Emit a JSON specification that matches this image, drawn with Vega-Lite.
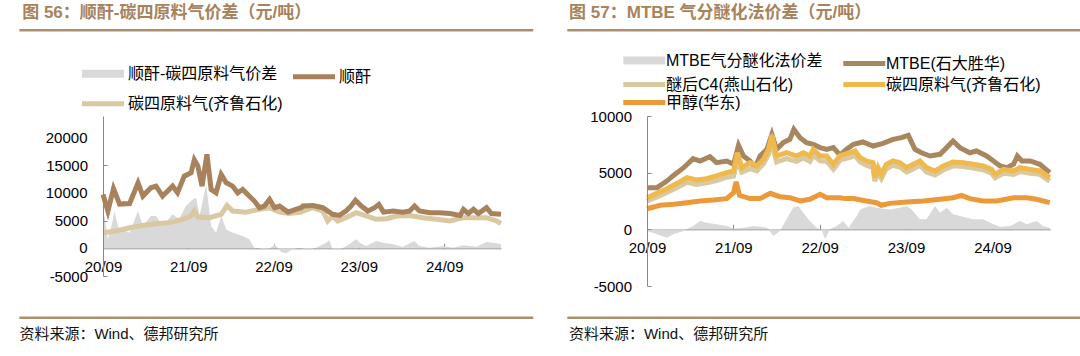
{
  "$schema": "https://vega.github.io/schema/vega-lite/v6.json",
  "background": "white",
  "padding": {"left": 18, "top": 4, "right": 2, "bottom": 4},
  "spacing": 31,
  "config": {
    "view": {"stroke": null},
    "font": "Liberation Sans, Noto Sans CJK SC",
    "axis": {"labelOverlap": false}
  },
  "resolve": {"scale": {"color": "independent"}, "legend": {"color": "independent"}},
  "datasets": {
    "L_spread": [
      {"date": "2020-09-01", "value": 6150}, {"date": "2020-09-08", "value": 5800}, {"date": "2020-09-22", "value": 1600},
      {"date": "2020-10-10", "value": 4500}, {"date": "2020-10-20", "value": 6750}, {"date": "2020-11-11", "value": 2830},
      {"date": "2020-12-01", "value": 3300}, {"date": "2020-12-24", "value": 2830}, {"date": "2021-01-29", "value": 6750},
      {"date": "2021-02-19", "value": 4030}, {"date": "2021-03-25", "value": 5850}, {"date": "2021-04-16", "value": 5850},
      {"date": "2021-05-14", "value": 4030}, {"date": "2021-06-26", "value": 6150}, {"date": "2021-07-24", "value": 5250},
      {"date": "2021-08-22", "value": 7650}, {"date": "2021-09-20", "value": 8850}, {"date": "2021-10-05", "value": 9150},
      {"date": "2021-10-19", "value": 5850}, {"date": "2021-11-17", "value": 11550}, {"date": "2021-12-08", "value": 4030},
      {"date": "2021-12-29", "value": 2830}, {"date": "2022-01-20", "value": 5850}, {"date": "2022-02-11", "value": 3430},
      {"date": "2022-03-10", "value": 2830}, {"date": "2022-04-22", "value": 2230}, {"date": "2022-05-20", "value": 1630},
      {"date": "2022-06-11", "value": 120}, {"date": "2022-07-17", "value": -180}, {"date": "2022-08-15", "value": -60},
      {"date": "2022-09-06", "value": 720}, {"date": "2022-10-04", "value": -660}, {"date": "2022-10-25", "value": -900},
      {"date": "2022-11-23", "value": -180}, {"date": "2022-12-29", "value": 120}, {"date": "2023-01-05", "value": -60},
      {"date": "2023-02-03", "value": -300}, {"date": "2023-03-02", "value": 120}, {"date": "2023-04-14", "value": 1020},
      {"date": "2023-04-28", "value": 1450}, {"date": "2023-05-12", "value": -180}, {"date": "2023-06-10", "value": -300},
      {"date": "2023-07-22", "value": 720}, {"date": "2023-08-21", "value": 1630}, {"date": "2023-09-05", "value": 1020},
      {"date": "2023-10-03", "value": 420}, {"date": "2023-11-15", "value": 1320}, {"date": "2023-12-13", "value": 1020},
      {"date": "2024-01-26", "value": 720}, {"date": "2024-03-08", "value": 300}, {"date": "2024-04-27", "value": 1320},
      {"date": "2024-05-18", "value": 420}, {"date": "2024-07-01", "value": 120}, {"date": "2024-08-27", "value": 420},
      {"date": "2024-10-09", "value": 120}, {"date": "2024-11-22", "value": 540}, {"date": "2025-01-18", "value": 300},
      {"date": "2025-03-01", "value": 1140}, {"date": "2025-04-13", "value": 900}, {"date": "2025-05-02", "value": 720}
    ],
    "L_ma": [
      {"date": "2020-09-01", "value": 9750}, {"date": "2020-09-22", "value": 6750}, {"date": "2020-10-16", "value": 10800},
      {"date": "2020-11-11", "value": 8000}, {"date": "2020-12-24", "value": 8100}, {"date": "2021-01-29", "value": 11850},
      {"date": "2021-02-19", "value": 9450}, {"date": "2021-03-25", "value": 10950}, {"date": "2021-04-16", "value": 11250},
      {"date": "2021-05-14", "value": 9450}, {"date": "2021-06-26", "value": 11250}, {"date": "2021-07-17", "value": 10050},
      {"date": "2021-08-15", "value": 13050}, {"date": "2021-09-13", "value": 13650}, {"date": "2021-09-27", "value": 16000},
      {"date": "2021-10-12", "value": 14900}, {"date": "2021-10-30", "value": 11250}, {"date": "2021-11-20", "value": 17000},
      {"date": "2021-12-08", "value": 10650}, {"date": "2021-12-29", "value": 10050}, {"date": "2022-01-20", "value": 13350},
      {"date": "2022-02-11", "value": 11850}, {"date": "2022-03-10", "value": 11250}, {"date": "2022-04-01", "value": 10050},
      {"date": "2022-04-22", "value": 10650}, {"date": "2022-05-20", "value": 9450}, {"date": "2022-06-11", "value": 8550},
      {"date": "2022-07-03", "value": 7350}, {"date": "2022-07-24", "value": 7650}, {"date": "2022-08-15", "value": 8850},
      {"date": "2022-09-06", "value": 7350}, {"date": "2022-09-27", "value": 7650}, {"date": "2022-11-02", "value": 6550},
      {"date": "2022-12-08", "value": 7100}, {"date": "2022-12-29", "value": 7350}, {"date": "2023-01-05", "value": 7650},
      {"date": "2023-02-17", "value": 7750}, {"date": "2023-03-31", "value": 7350}, {"date": "2023-05-12", "value": 6150},
      {"date": "2023-06-10", "value": 5950}, {"date": "2023-07-08", "value": 6750}, {"date": "2023-07-30", "value": 7650},
      {"date": "2023-08-18", "value": 8700}, {"date": "2023-09-12", "value": 7650}, {"date": "2023-10-10", "value": 6750},
      {"date": "2023-11-08", "value": 7350}, {"date": "2023-11-26", "value": 7950}, {"date": "2023-12-16", "value": 6550},
      {"date": "2024-01-26", "value": 6750}, {"date": "2024-03-08", "value": 6550}, {"date": "2024-04-06", "value": 6750},
      {"date": "2024-04-27", "value": 7650}, {"date": "2024-05-18", "value": 6750}, {"date": "2024-07-01", "value": 6450},
      {"date": "2024-08-13", "value": 6450}, {"date": "2024-09-25", "value": 6300}, {"date": "2024-11-08", "value": 5950},
      {"date": "2024-11-22", "value": 7050}, {"date": "2024-12-13", "value": 6300}, {"date": "2025-01-04", "value": 7050},
      {"date": "2025-01-25", "value": 6300}, {"date": "2025-03-01", "value": 7350}, {"date": "2025-03-22", "value": 6300},
      {"date": "2025-05-02", "value": 6150}
    ],
    "L_c4": [
      {"date": "2020-09-01", "value": 2830}, {"date": "2020-10-27", "value": 3130}, {"date": "2020-12-24", "value": 3730},
      {"date": "2021-02-19", "value": 4150}, {"date": "2021-04-16", "value": 4450}, {"date": "2021-06-12", "value": 4650},
      {"date": "2021-08-08", "value": 5250}, {"date": "2021-09-13", "value": 5850}, {"date": "2021-09-27", "value": 6750},
      {"date": "2021-10-12", "value": 5700}, {"date": "2021-12-01", "value": 5550}, {"date": "2022-01-20", "value": 6150},
      {"date": "2022-02-14", "value": 7750}, {"date": "2022-03-10", "value": 6750}, {"date": "2022-05-06", "value": 6550},
      {"date": "2022-07-03", "value": 7050}, {"date": "2022-08-15", "value": 7350}, {"date": "2022-09-27", "value": 6550},
      {"date": "2022-11-09", "value": 6300}, {"date": "2022-12-29", "value": 6550}, {"date": "2023-01-05", "value": 6750},
      {"date": "2023-02-17", "value": 7350}, {"date": "2023-03-31", "value": 6750}, {"date": "2023-04-21", "value": 4950},
      {"date": "2023-05-12", "value": 5850}, {"date": "2023-06-03", "value": 4950}, {"date": "2023-07-08", "value": 5550},
      {"date": "2023-08-21", "value": 6450}, {"date": "2023-10-03", "value": 5850}, {"date": "2023-11-15", "value": 5250},
      {"date": "2023-12-28", "value": 5350}, {"date": "2024-02-10", "value": 5850}, {"date": "2024-04-06", "value": 5950},
      {"date": "2024-06-02", "value": 5550}, {"date": "2024-07-29", "value": 5250}, {"date": "2024-09-25", "value": 4950},
      {"date": "2024-11-22", "value": 5550}, {"date": "2025-01-18", "value": 5550}, {"date": "2025-03-01", "value": 5550},
      {"date": "2025-04-13", "value": 4950}, {"date": "2025-05-02", "value": 4500}
    ],
    "L_ticks": [
      {"tick": 0}, {"tick": 10000}, {"tick": 20000}
    ],
    "R_spread": [
      {"date": "2020-09-01", "value": -150}, {"date": "2020-10-13", "value": -440}, {"date": "2020-11-24", "value": -740},
      {"date": "2020-12-22", "value": -440}, {"date": "2021-02-03", "value": -150}, {"date": "2021-03-15", "value": 290},
      {"date": "2021-04-13", "value": 740}, {"date": "2021-05-11", "value": 590}, {"date": "2021-06-22", "value": 440},
      {"date": "2021-08-04", "value": 290}, {"date": "2021-09-02", "value": 60}, {"date": "2021-10-14", "value": 150},
      {"date": "2021-11-25", "value": 290}, {"date": "2022-01-21", "value": 150}, {"date": "2022-02-18", "value": -590},
      {"date": "2022-03-17", "value": -150}, {"date": "2022-04-14", "value": 880}, {"date": "2022-05-12", "value": 1910},
      {"date": "2022-06-03", "value": 2060}, {"date": "2022-06-24", "value": 1470}, {"date": "2022-07-22", "value": 740},
      {"date": "2022-08-19", "value": 150}, {"date": "2022-09-10", "value": -60}, {"date": "2022-09-24", "value": -880},
      {"date": "2022-10-15", "value": 0}, {"date": "2022-11-12", "value": 290}, {"date": "2022-12-10", "value": 740},
      {"date": "2023-01-01", "value": 150}, {"date": "2023-02-05", "value": 1180}, {"date": "2023-02-19", "value": 1760},
      {"date": "2023-04-01", "value": 2060}, {"date": "2023-04-29", "value": 1910}, {"date": "2023-06-24", "value": 1760},
      {"date": "2023-08-06", "value": 1910}, {"date": "2023-09-04", "value": 2060}, {"date": "2023-09-25", "value": 1760},
      {"date": "2023-10-30", "value": 880}, {"date": "2023-11-27", "value": 880}, {"date": "2024-01-02", "value": 2060},
      {"date": "2024-01-23", "value": 1470}, {"date": "2024-02-20", "value": 1910}, {"date": "2024-03-18", "value": 1320},
      {"date": "2024-04-16", "value": 1180}, {"date": "2024-06-11", "value": 880}, {"date": "2024-07-23", "value": 880},
      {"date": "2024-09-05", "value": 440}, {"date": "2024-10-03", "value": 235}, {"date": "2024-11-15", "value": 290},
      {"date": "2024-12-26", "value": 740}, {"date": "2025-01-24", "value": 440}, {"date": "2025-03-06", "value": 740},
      {"date": "2025-04-03", "value": 290}, {"date": "2025-05-01", "value": 150}
    ],
    "R_mtbe": [
      {"date": "2020-09-01", "value": 3680}, {"date": "2020-10-13", "value": 3680}, {"date": "2020-11-24", "value": 4260},
      {"date": "2020-12-22", "value": 4760}, {"date": "2021-02-03", "value": 5440}, {"date": "2021-03-15", "value": 6240},
      {"date": "2021-04-13", "value": 6030}, {"date": "2021-05-25", "value": 6410}, {"date": "2021-06-22", "value": 5880},
      {"date": "2021-08-04", "value": 6030}, {"date": "2021-09-02", "value": 5740}, {"date": "2021-09-23", "value": 7410},
      {"date": "2021-10-14", "value": 6470}, {"date": "2021-11-11", "value": 6030}, {"date": "2021-12-02", "value": 5440},
      {"date": "2021-12-23", "value": 6470}, {"date": "2022-01-21", "value": 7060}, {"date": "2022-02-11", "value": 8380},
      {"date": "2022-03-03", "value": 7060}, {"date": "2022-03-31", "value": 7650}, {"date": "2022-04-28", "value": 7940},
      {"date": "2022-05-15", "value": 8820}, {"date": "2022-06-10", "value": 8090}, {"date": "2022-07-08", "value": 7650},
      {"date": "2022-08-05", "value": 7500}, {"date": "2022-09-03", "value": 7210}, {"date": "2022-10-01", "value": 7060},
      {"date": "2022-10-29", "value": 7210}, {"date": "2022-11-26", "value": 6550}, {"date": "2022-12-24", "value": 7060},
      {"date": "2023-01-22", "value": 7500}, {"date": "2023-03-03", "value": 7710}, {"date": "2023-04-15", "value": 7350},
      {"date": "2023-05-27", "value": 7590}, {"date": "2023-07-08", "value": 7940}, {"date": "2023-08-13", "value": 8090},
      {"date": "2023-09-11", "value": 8290}, {"date": "2023-10-09", "value": 7060}, {"date": "2023-11-06", "value": 6760},
      {"date": "2023-12-11", "value": 6470}, {"date": "2024-01-23", "value": 6620}, {"date": "2024-02-20", "value": 7210},
      {"date": "2024-03-18", "value": 7790}, {"date": "2024-04-16", "value": 7210}, {"date": "2024-05-28", "value": 6760},
      {"date": "2024-06-25", "value": 6910}, {"date": "2024-08-07", "value": 6470}, {"date": "2024-09-05", "value": 6030},
      {"date": "2024-10-03", "value": 5590}, {"date": "2024-11-01", "value": 5440}, {"date": "2024-11-29", "value": 5740},
      {"date": "2024-12-15", "value": 6470}, {"date": "2025-01-03", "value": 6030}, {"date": "2025-02-07", "value": 6030},
      {"date": "2025-03-20", "value": 5740}, {"date": "2025-05-01", "value": 5000}
    ],
    "R_c4after": [
      {"date": "2020-09-01", "value": 2500}, {"date": "2020-10-13", "value": 2850}, {"date": "2020-11-24", "value": 3250},
      {"date": "2021-01-06", "value": 3700}, {"date": "2021-02-17", "value": 4150}, {"date": "2021-03-29", "value": 3950},
      {"date": "2021-05-11", "value": 4100}, {"date": "2021-06-22", "value": 4300}, {"date": "2021-08-04", "value": 4600},
      {"date": "2021-09-02", "value": 4700}, {"date": "2021-09-18", "value": 6100}, {"date": "2021-10-07", "value": 5050},
      {"date": "2021-11-11", "value": 5350}, {"date": "2021-12-09", "value": 5150}, {"date": "2022-01-07", "value": 5800},
      {"date": "2022-01-28", "value": 6650}, {"date": "2022-02-11", "value": 7700}, {"date": "2022-03-03", "value": 5950},
      {"date": "2022-04-14", "value": 6250}, {"date": "2022-05-26", "value": 6000}, {"date": "2022-06-24", "value": 6300},
      {"date": "2022-07-22", "value": 6000}, {"date": "2022-08-05", "value": 6550}, {"date": "2022-09-03", "value": 6050},
      {"date": "2022-10-01", "value": 6000}, {"date": "2022-10-29", "value": 5300}, {"date": "2022-11-26", "value": 6100},
      {"date": "2023-01-08", "value": 6350}, {"date": "2023-01-29", "value": 6500}, {"date": "2023-02-19", "value": 5950},
      {"date": "2023-03-17", "value": 5650}, {"date": "2023-04-15", "value": 5450}, {"date": "2023-04-22", "value": 4250},
      {"date": "2023-05-06", "value": 5050}, {"date": "2023-05-20", "value": 4500}, {"date": "2023-06-10", "value": 5350},
      {"date": "2023-07-08", "value": 5650}, {"date": "2023-08-06", "value": 5500}, {"date": "2023-09-04", "value": 5050},
      {"date": "2023-10-02", "value": 5350}, {"date": "2023-10-30", "value": 5650}, {"date": "2023-11-27", "value": 5050},
      {"date": "2024-01-02", "value": 4800}, {"date": "2024-02-06", "value": 5250}, {"date": "2024-03-18", "value": 5600},
      {"date": "2024-04-30", "value": 5550}, {"date": "2024-06-11", "value": 5400}, {"date": "2024-07-23", "value": 5250},
      {"date": "2024-08-28", "value": 4950}, {"date": "2024-09-12", "value": 4550}, {"date": "2024-10-17", "value": 4950},
      {"date": "2024-11-29", "value": 4850}, {"date": "2024-12-26", "value": 5100}, {"date": "2025-02-07", "value": 4950},
      {"date": "2025-03-20", "value": 4850}, {"date": "2025-05-01", "value": 4250}
    ],
    "R_c4": [
      {"date": "2020-09-01", "value": 2790}, {"date": "2020-10-13", "value": 3180}, {"date": "2020-11-24", "value": 3590},
      {"date": "2021-01-06", "value": 4060}, {"date": "2021-02-17", "value": 4560}, {"date": "2021-03-29", "value": 4350},
      {"date": "2021-05-11", "value": 4470}, {"date": "2021-06-22", "value": 4710}, {"date": "2021-08-04", "value": 5000},
      {"date": "2021-09-02", "value": 5150}, {"date": "2021-09-18", "value": 6760}, {"date": "2021-10-07", "value": 5440},
      {"date": "2021-11-11", "value": 5880}, {"date": "2021-12-09", "value": 5590}, {"date": "2022-01-07", "value": 6180},
      {"date": "2022-01-28", "value": 7060}, {"date": "2022-02-11", "value": 8290}, {"date": "2022-03-03", "value": 6470},
      {"date": "2022-04-14", "value": 6760}, {"date": "2022-05-26", "value": 6470}, {"date": "2022-06-24", "value": 6760},
      {"date": "2022-07-22", "value": 6470}, {"date": "2022-08-05", "value": 7060}, {"date": "2022-09-03", "value": 6470},
      {"date": "2022-10-01", "value": 6470}, {"date": "2022-10-29", "value": 5740}, {"date": "2022-11-26", "value": 6500},
      {"date": "2023-01-08", "value": 6760}, {"date": "2023-01-29", "value": 6910}, {"date": "2023-02-19", "value": 6320},
      {"date": "2023-03-17", "value": 6030}, {"date": "2023-04-15", "value": 5880}, {"date": "2023-04-22", "value": 4560},
      {"date": "2023-05-06", "value": 5440}, {"date": "2023-05-20", "value": 4850}, {"date": "2023-06-10", "value": 5740},
      {"date": "2023-07-08", "value": 6030}, {"date": "2023-08-06", "value": 5880}, {"date": "2023-09-04", "value": 5440},
      {"date": "2023-10-02", "value": 5740}, {"date": "2023-10-30", "value": 6030}, {"date": "2023-11-27", "value": 5440},
      {"date": "2024-01-02", "value": 5150}, {"date": "2024-02-06", "value": 5590}, {"date": "2024-03-18", "value": 5940},
      {"date": "2024-04-30", "value": 5880}, {"date": "2024-06-11", "value": 5740}, {"date": "2024-07-23", "value": 5590},
      {"date": "2024-08-28", "value": 5290}, {"date": "2024-09-12", "value": 4850}, {"date": "2024-10-17", "value": 5290},
      {"date": "2024-11-29", "value": 5150}, {"date": "2024-12-26", "value": 5440}, {"date": "2025-02-07", "value": 5290},
      {"date": "2025-03-20", "value": 5150}, {"date": "2025-05-01", "value": 4560}
    ],
    "R_meoh": [
      {"date": "2020-09-01", "value": 1820}, {"date": "2020-10-27", "value": 2120}, {"date": "2020-12-22", "value": 2210},
      {"date": "2021-02-17", "value": 2350}, {"date": "2021-04-13", "value": 2500}, {"date": "2021-06-08", "value": 2590},
      {"date": "2021-08-04", "value": 2710}, {"date": "2021-09-02", "value": 3240}, {"date": "2021-09-13", "value": 4180},
      {"date": "2021-09-27", "value": 3000}, {"date": "2021-11-11", "value": 2710}, {"date": "2021-12-23", "value": 2710},
      {"date": "2022-02-04", "value": 3180}, {"date": "2022-03-17", "value": 2880}, {"date": "2022-04-28", "value": 2790},
      {"date": "2022-06-10", "value": 2500}, {"date": "2022-07-22", "value": 2650}, {"date": "2022-09-03", "value": 3090},
      {"date": "2022-10-01", "value": 2790}, {"date": "2022-11-26", "value": 2790}, {"date": "2022-12-17", "value": 2710},
      {"date": "2023-01-22", "value": 2710}, {"date": "2023-03-17", "value": 2500}, {"date": "2023-04-29", "value": 2350},
      {"date": "2023-05-20", "value": 2120}, {"date": "2023-06-24", "value": 2290}, {"date": "2023-09-04", "value": 2410},
      {"date": "2023-11-13", "value": 2500}, {"date": "2024-01-23", "value": 2650}, {"date": "2024-03-18", "value": 2790},
      {"date": "2024-04-23", "value": 3000}, {"date": "2024-05-28", "value": 2710}, {"date": "2024-07-23", "value": 2500},
      {"date": "2024-09-19", "value": 2500}, {"date": "2024-11-29", "value": 2790}, {"date": "2025-01-24", "value": 2790},
      {"date": "2025-03-06", "value": 2650}, {"date": "2025-05-01", "value": 2350}
    ]
  },
  "hconcat": [
    {
      "width": 398,
      "height": 160,
      "title": {"text": "图 56：顺酐-碳四原料气价差（元/吨）", "anchor": "start", "frame": "bounds", "fontSize": 17, "fontWeight": "bold", "color": "#a8825b", "offset": 7, "dx": 4},
      "resolve": {"scale": {"x": "independent", "y": "independent"}, "axis": {"x": "independent", "y": "independent"}},
      "layer": [
        {
          "layer": [
            {
              "data": {"name": "L_spread"},
              "mark": {"type": "area"},
              "encoding": {
                "x": {"field": "date", "type": "temporal",
                  "scale": {"domain": [{"year": 2020, "month": 9, "date": 1}, {"year": 2025, "month": 5, "date": 2}], "nice": false},
                  "axis": {"values": [{"year": 2020, "month": 9, "date": 1}, {"year": 2021, "month": 9, "date": 1}, {"year": 2022, "month": 9, "date": 1}, {"year": 2023, "month": 9, "date": 1}, {"year": 2024, "month": 9, "date": 1}],
                    "format": "%y/%m", "offset": -27.7, "tickSize": -5, "labelPadding": 16, "domainColor": "#888", "tickColor": "#888",
                    "labelFontSize": 15, "labelColor": "#000", "title": null, "grid": false, "labelFlush": false, "labelOverlap": false, "labelBound": false}},
                "y": {"field": "value", "type": "quantitative",
                  "scale": {"domain": [-5000, 23930], "nice": false, "zero": false},
                  "axis": {"values": [-5000, 0, 5000, 10000, 15000, 20000], "labelExpr": "'' + datum.value", "domain": true, "domainColor": "#888", "grid": false, "tickSize": -4, "tickColor": "#888",
                    "labelPadding": 19.5, "labelFontSize": 15, "labelColor": "#000", "title": null, "labelOverlap": false, "labelFlush": false, "labelBound": false, "zindex": 1}},
                "color": {"datum": "顺酐-碳四原料气价差", "type": "nominal",
                  "scale": {"domain": ["顺酐-碳四原料气价差", "顺酐", "碳四原料气(齐鲁石化)"], "range": ["#d9d9d9", "#a7825d", "#d9c8a1"]},
                  "legend": {"title": null, "orient": "none", "direction": "horizontal", "legendX": -8, "legendY": -50.2, "columns": 2, "symbolType": "stroke", "symbolSize": 1764,
                    "symbolStrokeWidth": 5, "labelFontSize": 16, "labelOffset": 17, "labelLimit": 400, "rowPadding": 4, "columnPadding": 0, "padding": 0, "labelColor": "#000",
                    "values": ["顺酐-碳四原料气价差", "顺酐", "碳四原料气(齐鲁石化)"],
                    "encode": {"symbols": {"update": {
                      "fill": {"value": "transparent"}, "opacity": {"value": 1},
                      "stroke": {"signal": "datum.value === '顺酐-碳四原料气价差' ? '#d9d9d9' : datum.value === '顺酐' ? '#a7825d' : '#d9c8a1'"},
                      "strokeWidth": {"signal": "datum.value === '顺酐-碳四原料气价差' ? 8 : 5"}}}}}}
              }
            },
            {
              "data": {"name": "L_c4"},
              "mark": {"type": "line", "strokeWidth": 5},
              "encoding": {"x": {"field": "date", "type": "temporal"}, "y": {"field": "value", "type": "quantitative"}, "color": {"datum": "碳四原料气(齐鲁石化)", "type": "nominal"}}
            },
            {
              "data": {"name": "L_ma"},
              "mark": {"type": "line", "strokeWidth": 5},
              "encoding": {"x": {"field": "date", "type": "temporal"}, "y": {"field": "value", "type": "quantitative"}, "color": {"datum": "顺酐", "type": "nominal"}}
            }
          ]
        },
        {
          "layer": [
            {
              "data": {"values": [{}]},
              "mark": {"type": "rule", "color": "#ad8f6e", "strokeWidth": 2.4},
              "encoding": {
                "x": {"datum": {"year": 2019, "month": 9, "date": 9}, "type": "temporal", "axis": null,
                  "scale": {"domain": [{"year": 2020, "month": 9, "date": 1}, {"year": 2025, "month": 5, "date": 2}], "nice": false}},
                "x2": {"datum": {"year": 2025, "month": 9, "date": 17}},
                "y": {"datum": 39425, "type": "quantitative", "axis": null, "scale": {"domain": [-5000, 23930], "nice": false, "zero": false}}}
            },
            {
              "data": {"values": [{}]},
              "mark": {"type": "rule", "color": "#ad8f6e", "strokeWidth": 2.4},
              "encoding": {
                "x": {"datum": {"year": 2019, "month": 9, "date": 9}, "type": "temporal", "axis": null},
                "x2": {"datum": {"year": 2025, "month": 9, "date": 17}},
                "y": {"datum": -12540, "type": "quantitative", "axis": null}}
            },
            {
              "data": {"values": [{}]},
              "mark": {"type": "text", "text": "资料来源：Wind、德邦研究所", "align": "left", "baseline": "middle", "fontSize": 15, "color": "#111"},
              "encoding": {
                "x": {"datum": {"year": 2019, "month": 9, "date": 9}, "type": "temporal", "axis": null},
                "y": {"datum": -15487, "type": "quantitative", "axis": null}}
            },
            {
              "data": {"name": "L_ticks"},
              "mark": {"type": "text", "align": "right", "baseline": "middle", "fontSize": 15, "dx": -15.5, "color": "#000"},
              "encoding": {
                "x": {"datum": {"year": 2020, "month": 9, "date": 1}, "type": "temporal", "axis": null},
                "y": {"field": "tick", "type": "quantitative", "axis": null},
                "text": {"field": "tick", "type": "quantitative", "format": "d"}}
            }
          ]
        }
      ]
    },
    {
      "width": 403,
      "height": 170,
      "title": {"text": "图 57：MTBE 气分醚化法价差（元/吨）", "anchor": "start", "frame": "bounds", "fontSize": 17, "fontWeight": "bold", "color": "#a8825b", "offset": 7, "dx": 3},
      "resolve": {"scale": {"x": "independent", "y": "independent"}, "axis": {"x": "independent", "y": "independent"}},
      "layer": [
        {
          "layer": [
            {
              "data": {"name": "R_spread"},
              "mark": {"type": "area"},
              "encoding": {
                "x": {"field": "date", "type": "temporal",
                  "scale": {"domain": [{"year": 2020, "month": 9, "date": 1}, {"year": 2025, "month": 5, "date": 2}], "nice": false},
                  "axis": {"values": [{"year": 2020, "month": 9, "date": 1}, {"year": 2021, "month": 9, "date": 1}, {"year": 2022, "month": 9, "date": 1}, {"year": 2023, "month": 9, "date": 1}, {"year": 2024, "month": 9, "date": 1}],
                    "format": "%y/%m", "offset": -56.7, "tickSize": -5, "labelPadding": 16, "domainColor": "#888", "tickColor": "#888",
                    "labelFontSize": 15, "labelColor": "#000", "title": null, "grid": false, "labelFlush": false, "labelOverlap": false, "labelBound": false}},
                "y": {"field": "value", "type": "quantitative",
                  "scale": {"domain": [-5000, 10000], "nice": false, "zero": false},
                  "axis": {"values": [-5000, 0, 5000, 10000], "labelExpr": "'' + datum.value", "domain": true, "domainColor": "#888", "grid": false, "tickSize": -4, "tickColor": "#888",
                    "labelPadding": 19.5, "labelFontSize": 15, "labelColor": "#000", "title": null, "labelOverlap": false, "labelFlush": false, "labelBound": false, "zindex": 1}},
                "color": {"datum": "MTBE气分醚化法价差", "type": "nominal",
                  "scale": {"domain": ["MTBE气分醚化法价差", "MTBE(石大胜华)", "醚后C4(燕山石化)", "碳四原料气(齐鲁石化)", "甲醇(华东)"], "range": ["#d9d9d9", "#a8865f", "#d9c9a3", "#f0b94c", "#ec993a"]},
                  "legend": {"title": null, "orient": "none", "direction": "horizontal", "legendX": -10.7, "legendY": -63.4, "columns": 2, "symbolType": "stroke", "symbolSize": 1764,
                    "symbolStrokeWidth": 5, "labelFontSize": 16, "labelOffset": 13.7, "labelLimit": 400, "rowPadding": -3, "columnPadding": 10, "padding": 0, "labelColor": "#000",
                    "values": ["MTBE气分醚化法价差", "MTBE(石大胜华)", "醚后C4(燕山石化)", "碳四原料气(齐鲁石化)", "甲醇(华东)"],
                    "encode": {"symbols": {"update": {
                      "fill": {"value": "transparent"}, "opacity": {"value": 1},
                      "stroke": {"signal": "datum.value === 'MTBE气分醚化法价差' ? '#d9d9d9' : datum.value === 'MTBE(石大胜华)' ? '#a8865f' : datum.value === '醚后C4(燕山石化)' ? '#d9c9a3' : datum.value === '甲醇(华东)' ? '#ec993a' : '#f0b94c'"},
                      "strokeWidth": {"signal": "datum.value === 'MTBE气分醚化法价差' ? 8 : 5"}}}}}}
              }
            },
            {
              "data": {"name": "R_mtbe"},
              "mark": {"type": "line", "strokeWidth": 5},
              "encoding": {"x": {"field": "date", "type": "temporal"}, "y": {"field": "value", "type": "quantitative"}, "color": {"datum": "MTBE(石大胜华)", "type": "nominal"}}
            },
            {
              "data": {"name": "R_c4after"},
              "mark": {"type": "line", "strokeWidth": 5},
              "encoding": {"x": {"field": "date", "type": "temporal"}, "y": {"field": "value", "type": "quantitative"}, "color": {"datum": "醚后C4(燕山石化)", "type": "nominal"}}
            },
            {
              "data": {"name": "R_c4"},
              "mark": {"type": "line", "strokeWidth": 5},
              "encoding": {"x": {"field": "date", "type": "temporal"}, "y": {"field": "value", "type": "quantitative"}, "color": {"datum": "碳四原料气(齐鲁石化)", "type": "nominal"}}
            },
            {
              "data": {"name": "R_meoh"},
              "mark": {"type": "line", "strokeWidth": 5},
              "encoding": {"x": {"field": "date", "type": "temporal"}, "y": {"field": "value", "type": "quantitative"}, "color": {"datum": "甲醇(华东)", "type": "nominal"}}
            }
          ]
        },
        {
          "layer": [
            {
              "data": {"values": [{}]},
              "mark": {"type": "rule", "color": "#ad8f6e", "strokeWidth": 2.4},
              "encoding": {
                "x": {"datum": {"year": 2019, "month": 9, "date": 30}, "type": "temporal", "axis": null,
                  "scale": {"domain": [{"year": 2020, "month": 9, "date": 1}, {"year": 2025, "month": 5, "date": 2}], "nice": false}},
                "x2": {"datum": {"year": 2025, "month": 9, "date": 11}},
                "y": {"datum": 17562, "type": "quantitative", "axis": null, "scale": {"domain": [-5000, 10000], "nice": false, "zero": false}}}
            },
            {
              "data": {"values": [{}]},
              "mark": {"type": "rule", "color": "#ad8f6e", "strokeWidth": 2.4},
              "encoding": {
                "x": {"datum": {"year": 2019, "month": 9, "date": 30}, "type": "temporal", "axis": null},
                "x2": {"datum": {"year": 2025, "month": 9, "date": 11}},
                "y": {"datum": -7797, "type": "quantitative", "axis": null}}
            },
            {
              "data": {"values": [{}]},
              "mark": {"type": "text", "text": "资料来源：Wind、德邦研究所", "align": "left", "baseline": "middle", "fontSize": 15, "color": "#111"},
              "encoding": {
                "x": {"datum": {"year": 2019, "month": 10, "date": 7}, "type": "temporal", "axis": null},
                "y": {"datum": -9235, "type": "quantitative", "axis": null}}
            }
          ]
        }
      ]
    }
  ]
}
